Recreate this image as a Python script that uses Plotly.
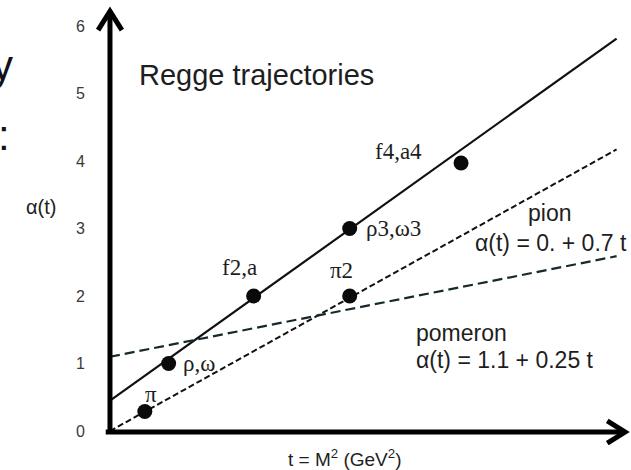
import plotly.graph_objects as go

# Trajectories: intercept alpha(0) and slope alpha' (GeV^-2)
traj_names = ["rho/f", "pion", "pomeron"]
traj_intercept = [0.45, 0.0, 1.1]
traj_slope = [0.9, 0.7, 0.25]
t_end = 5.96

# Resonances (t = M^2 in GeV^2, spin alpha)
res_labels = ["π", "ρ,ω", "f2,a", "ρ3,ω3", "f4,a4", "π2"]
res_t = [0.41, 0.69, 1.69, 2.82, 4.13, 2.82]
res_alpha = [0.29, 1.0, 2.0, 3.0, 3.97, 2.0]

y_ticks = [0, 1, 2, 3, 4, 5, 6]

W, H = 631, 470
ML, MR, MT, MB = 94, 1, 2, 25
X_RANGE = [-0.188, 6.1176]
Y_RANGE = [-0.207, 6.356]

SANS = "Liberation Sans, Arial, sans-serif"
SERIF = "Liberation Serif, Times New Roman, serif"
INK = "#1e1e1e"


def paper_x(px):
    return (px - ML) / (W - ML - MR)


def paper_y(py):
    return (H - MB - py) / (H - MT - MB)


fig = go.Figure()

line_styles = [
    dict(color="#111111", width=2.2),
    dict(color="#111111", width=2.0, dash="6px,3px"),
    dict(color="#16292c", width=2.2, dash="10px,5px"),
]
for name, a0, s, st in zip(traj_names, traj_intercept, traj_slope, line_styles):
    fig.add_trace(go.Scatter(
        x=[0, t_end], y=[a0, a0 + s * t_end], mode="lines",
        line=st, name=name, showlegend=False, hoverinfo="skip",
    ))

fig.add_trace(go.Scatter(
    x=res_t, y=res_alpha, mode="markers",
    marker=dict(size=15, color="#0a0a0a"),
    showlegend=False, text=res_labels, hoverinfo="text",
))

# label offsets (px) and anchors for each resonance
label_place = [
    dict(xanchor="center", xshift=6, yshift=17),
    dict(xanchor="left", xshift=12, yshift=0),
    dict(xanchor="right", xshift=5, yshift=29),
    dict(xanchor="left", xshift=14, yshift=0),
    dict(xanchor="right", xshift=-37, yshift=12),
    dict(xanchor="right", xshift=5, yshift=26),
]
annotations = []
for lab, t, a, pl in zip(res_labels, res_t, res_alpha, label_place):
    annotations.append(dict(
        x=t, y=a, xref="x", yref="y", text=lab, showarrow=False,
        yanchor="middle", font=dict(family=SERIF, size=23, color=INK), **pl,
    ))

annotations += [
    dict(x=paper_x(137), y=paper_y(75), xref="paper", yref="paper",
         text="Regge trajectories", showarrow=False, xanchor="left", yanchor="middle",
         font=dict(family=SANS, size=29, color=INK)),
    dict(x=paper_x(549), y=paper_y(213), xref="paper", yref="paper",
         text="pion", showarrow=False, xanchor="center", yanchor="middle",
         font=dict(family=SANS, size=23, color=INK)),
    dict(x=paper_x(629), y=paper_y(243), xref="paper", yref="paper",
         text="α(t) = 0. + 0.7 t", showarrow=False, xanchor="right", yanchor="middle",
         font=dict(family=SANS, size=23, color=INK)),
    dict(x=paper_x(414), y=paper_y(333), xref="paper", yref="paper",
         text="pomeron", showarrow=False, xanchor="left", yanchor="middle",
         font=dict(family=SANS, size=23, color=INK)),
    dict(x=paper_x(414), y=paper_y(360), xref="paper", yref="paper",
         text="α(t) = 1.1 + 0.25 t", showarrow=False, xanchor="left", yanchor="middle",
         font=dict(family=SANS, size=23, color=INK)),
    dict(x=paper_x(41), y=paper_y(207), xref="paper", yref="paper",
         text="α(t)", showarrow=False, xanchor="center", yanchor="middle",
         font=dict(family=SANS, size=20, color=INK)),
    dict(x=paper_x(345), y=paper_y(458), xref="paper", yref="paper",
         text="t = M<sup>2</sup> (GeV<sup>2</sup>)", showarrow=False,
         xanchor="center", yanchor="middle",
         font=dict(family=SANS, size=19, color=INK)),
    # fragments of the slide heading at the left edge
    dict(x=paper_x(15), y=paper_y(66), xref="paper", yref="paper",
         text="y", showarrow=False, xanchor="right", yanchor="middle",
         font=dict(family=SANS, size=42, color="#111118")),
    dict(x=paper_x(12), y=paper_y(135), xref="paper", yref="paper",
         text=":", showarrow=False, xanchor="right", yanchor="middle",
         font=dict(family=SANS, size=42, color="#111118")),
]

# Axes drawn as thick arrows
ax_line = dict(color="#000000", width=5)
tip_t, tip_a = 6.06, 6.22
shapes = [
    dict(type="line", xref="x", yref="y", x0=0, y0=-0.03, x1=0, y1=tip_a - 0.03, line=ax_line),
    dict(type="line", xref="x", yref="y", x0=-0.05, y0=-0.015, x1=tip_t - 0.03, y1=-0.015, line=ax_line),
    dict(type="path", xref="x", yref="y",
         path=f"M {-0.14} {5.94} L 0 {tip_a} L {0.14} {5.94}", line=ax_line),
    dict(type="path", xref="x", yref="y",
         path=f"M {5.85} {0.15} L {tip_t} {-0.015} L {5.85} {-0.18}", line=ax_line),
]

fig.update_layout(
    width=W, height=H,
    margin=dict(l=ML, r=MR, t=MT, b=MB),
    paper_bgcolor="white", plot_bgcolor="white",
    annotations=annotations, shapes=shapes,
    xaxis=dict(range=X_RANGE, showgrid=False, zeroline=False, showline=False,
               showticklabels=False, ticks=""),
    yaxis=dict(range=Y_RANGE, showgrid=False, zeroline=False, showline=False,
               tickvals=y_ticks, ticks="", ticklabelstandoff=8,
               tickfont=dict(family=SANS, size=16, color="#3a3a3a")),
)

fig.write_html("out.html")
